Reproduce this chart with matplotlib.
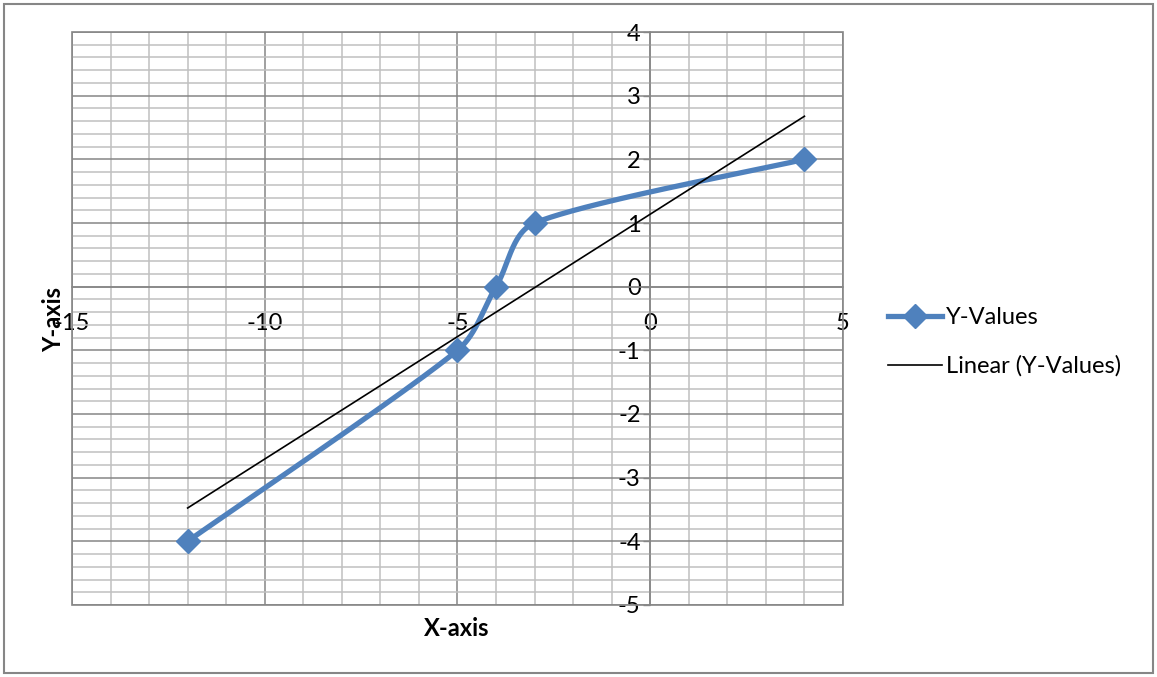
import numpy as np
import matplotlib.pyplot as plt
from matplotlib.lines import Line2D
from matplotlib.patches import Rectangle

# series
x_vals = [-12, -5, -4, -3, 4]
y_vals = [-4, -1, 0, 1, 2]
series_name = 'Y-Values'
trend_name = 'Linear (Y-Values)'
x_ticks = [-15, -10, -5, 0, 5]
y_ticks = [-5, -4, -3, -2, -1, 0, 1, 2, 3, 4]

blue = '#4F81BD'
grid_major = '#868686'
grid_minor = '#C0C0C0'
fs = 17

plt.rcParams['font.family'] = ['Lato', 'DejaVu Sans']
plt.rcParams['axes.unicode_minus'] = False

fig = plt.figure(figsize=(11.57, 6.77), dpi=100)
ax = fig.add_axes([0.0622, 0.1064, 0.6664, 0.8463])
ax.set_xlim(-15, 5)
ax.set_ylim(-5, 4)

ax.set_xticks(x_ticks)
ax.set_xticks(range(-15, 6), minor=True)
ax.set_yticks(y_ticks)
ax.set_yticks(np.arange(-5, 4.01, 0.2), minor=True)
ax.grid(which='major', color=grid_major, lw=1.1)
ax.grid(which='minor', color=grid_minor, lw=1.1)
ax.set_axisbelow(True)

# axes cross at the origin
for side in ['top', 'right']:
    ax.spines[side].set_visible(False)
ax.spines['left'].set_position(('data', 0))
ax.spines['bottom'].set_position(('data', 0))
for side in ['left', 'bottom']:
    ax.spines[side].set_color(grid_major)
    ax.spines[side].set_linewidth(1.1)
ax.add_patch(Rectangle((0, 0), 1, 1, transform=ax.transAxes, fill=False,
                       edgecolor=grid_major, lw=1.2, clip_on=False, zorder=1))

ax.tick_params(which='minor', length=0)
ax.tick_params(axis='x', which='major', length=0, pad=19, labelsize=fs)
ax.tick_params(axis='y', which='major', length=5, width=1, color=grid_major,
               pad=2, labelsize=fs, direction='out')


def smooth_curve(xs, ys, n=80):
    # bezier smoothing in screen space, arms capped at a third of each segment
    pts = ax.transData.transform(np.column_stack([xs, ys]))
    m = len(pts)
    arms = [(pts[min(i + 1, m - 1)] - pts[max(i - 1, 0)]) / 6.0 for i in range(m)]
    t = np.linspace(0, 1, n)[:, None]
    out = []
    for i in range(m - 1):
        p0, p3 = pts[i], pts[i + 1]
        cap = np.hypot(*(p3 - p0)) / 3.0
        a0, a1 = arms[i], arms[i + 1]
        a0 = a0 * min(1.0, cap / np.hypot(*a0))
        a1 = a1 * min(1.0, cap / np.hypot(*a1))
        p1, p2 = p0 + a0, p3 - a1
        seg = ((1 - t) ** 3) * p0 + 3 * ((1 - t) ** 2) * t * p1 \
            + 3 * (1 - t) * t ** 2 * p2 + t ** 3 * p3
        out.append(seg if i == 0 else seg[1:])
    out = ax.transData.inverted().transform(np.vstack(out))
    return out[:, 0], out[:, 1]


cx, cy = smooth_curve(x_vals, y_vals)
ax.plot(cx, cy, color=blue, lw=3.8, solid_capstyle='round', zorder=3)
ax.plot(x_vals, y_vals, 'D', ms=12, color=blue, zorder=4)

coef = np.polyfit(x_vals, y_vals, 1)
tx = np.array([min(x_vals), max(x_vals)])
ax.plot(tx, np.polyval(coef, tx), color='black', lw=1.2, zorder=3)

fig.text(54 / 1157, 1 - 319 / 677, 'Y-axis', rotation=90, ha='center', va='center',
         fontsize=fs, fontweight='bold')
fig.text(457 / 1157, 1 - 628 / 677, 'X-axis', ha='center', va='center',
         fontsize=fs, fontweight='bold')

handles = [Line2D([], [], color=blue, lw=3.8, marker='D', ms=12),
           Line2D([], [], color='black', lw=1.2)]
fig.legend(handles, [series_name, trend_name], loc='center left',
           bbox_to_anchor=(0.7675, 0.495), frameon=False, fontsize=fs,
           handlelength=2.3, handletextpad=0.17, labelspacing=1.16,
           borderpad=0, borderaxespad=0)

fig.patches.append(Rectangle((4 / 1157, 4 / 677), 1149 / 1157, 669 / 677,
                             transform=fig.transFigure, fill=False,
                             edgecolor=grid_major, lw=1.5))

fig.savefig('out.png', dpi=100)
